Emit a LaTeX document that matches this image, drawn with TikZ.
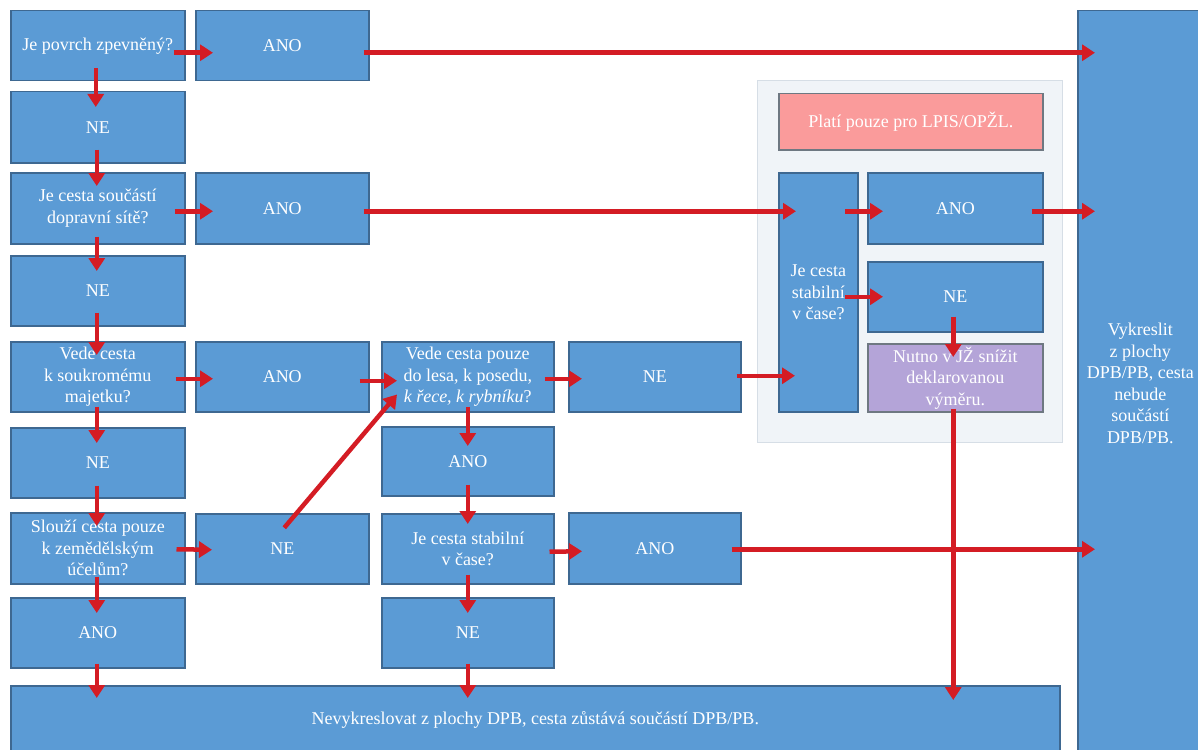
\documentclass[tikz,border=0pt]{standalone}
\usepackage{fontspec}
\setmainfont{Liberation Serif}
\usetikzlibrary{arrows.meta,calc}
\definecolor{boxc}{RGB}{91,155,213}
\definecolor{bordc}{RGB}{62,104,145}
\definecolor{arrc}{RGB}{212,28,36}
\definecolor{panelc}{RGB}{240,244,248}
\definecolor{panelb}{RGB}{214,222,230}
\definecolor{pinkc}{RGB}{250,155,155}
\definecolor{purplec}{RGB}{180,164,216}
\definecolor{greyb}{RGB}{110,120,130}
\tikzset{
  box/.style={draw=bordc, fill=boxc, line width=1.5pt, text=white,
    font=\fontsize{18}{21.5}\selectfont, align=center, inner sep=2pt,
    anchor=north west, minimum width=#1},
  box/.default=174pt,
  arr/.style={draw=arrc, line width=4.5pt,
    -{Triangle[length=13pt,width=16pt]}},
}
\begin{document}
\begin{tikzpicture}[x=1pt,y=-1pt]
\useasboundingbox (0,0) rectangle (1198,749);
% panel
\node[draw=panelb, fill=panelc, line width=1.2pt, anchor=north west,
  minimum width=305pt, minimum height=362pt, inner sep=0pt] (panel) at (757,80) {};
% column 1
\node[box, minimum height=70pt] (q1) at (10,10) {Je povrch zpevněný?};
\node[box, minimum height=71pt] (n1) at (10,91) {NE};
\node[box, minimum height=71pt] (q2) at (10,172) {Je cesta součástí\\dopravní sítě?};
\node[box, minimum height=70pt] (n2) at (10,255) {NE};
\node[box, minimum height=70pt] (q3) at (10,341) {Vede cesta\\k soukromému\\majetku?};
\node[box, minimum height=70pt] (n3) at (10,427) {NE};
\node[box, minimum height=71pt] (q4) at (10,512) {Slouží cesta pouze\\k zemědělským\\účelům?};
\node[box, minimum height=70pt] (a4) at (10,597) {ANO};
% column 2
\node[box=173pt, minimum height=70pt] (a1) at (195,10) {ANO};
\node[box=173pt, minimum height=71pt] (a2) at (195,172) {ANO};
\node[box=173pt, minimum height=70pt] (a3) at (195,341) {ANO};
\node[box=173pt, minimum height=70pt] (n4) at (195,513) {NE};
% column 3
\node[box=172pt, minimum height=70pt] (q5) at (381,341) {Vede cesta pouze\\do lesa, k posedu,\\\textit{k řece, k rybníku}?};
\node[box=172pt, minimum height=69pt] (a5) at (381,426) {ANO};
\node[box=172pt, minimum height=70pt] (q6) at (381,513) {Je cesta stabilní\\v čase?};
\node[box=172pt, minimum height=70pt] (n6) at (381,597) {NE};
% column 4
\node[box=172pt, minimum height=70pt] (n5) at (568,341) {NE};
\node[box=172pt, minimum height=71pt] (a6) at (568,512) {ANO};
% panel contents
\node[box=264pt, minimum height=56pt, fill=pinkc, draw=greyb] (pink) at (778,93) {Platí pouze pro LPIS/OPŽL.};
\node[box=79pt, minimum height=239pt] (st) at (778,172) {Je cesta\\stabilní\\v čase?};
\node[box=175pt, minimum height=71pt] (pa) at (867,172) {ANO};
\node[box=175pt, minimum height=70pt] (pn) at (867,261) {NE};
\node[box=175pt, minimum height=68pt, fill=purplec, draw=greyb] (nut) at (867,343) {Nutno v JŽ snížit\\deklarovanou\\výměru.};
% right and bottom
\node[box=125pt, minimum height=745pt] (R) at (1077,10) {Vykreslit\\z plochy\\DPB/PB, cesta\\nebude\\součástí\\DPB/PB.};
\node[box=1049pt, minimum height=68pt] (bot) at (10,685) {Nevykreslovat z plochy DPB, cesta zůstává součástí DPB/PB.};
% arrows column 1
\draw[arr] ($(q1.south)+(-2,-13)$) -- ($(n1.north)+(-2,16)$);
\draw[arr] ($(n1.south)+(-1,-14)$) -- ($(q2.north)+(-1,14)$);
\draw[arr] ($(q2.south)+(-1,-8)$) -- ($(n2.north)+(-1,16)$);
\draw[arr] ($(n2.south)+(-1,-14)$) -- ($(q3.north)+(-1,14)$);
\draw[arr] ($(q3.south)+(-1,-6)$) -- ($(n3.north)+(-1,16)$);
\draw[arr] ($(n3.south)+(-1,-13)$) -- ($(q4.north)+(-1,14)$);
\draw[arr] ($(q4.south)+(-1,-8)$) -- ($(a4.north)+(-1,16)$);
\draw[arr] ($(a4.south)+(-1,-5)$) -- ($(a4.south |- bot.north)+(-1,13)$);
% horizontal arrows
\draw[arr] ($(q1.east)+(-12,7)$) -- ($(a1.west)+(18,7)$);
\draw[arr] ($(a1.east)+(-6,7)$) -- ($(a1.east -| R.west)+(18,7)$);
\draw[arr] ($(q2.east)+(-11,3)$) -- ($(a2.west)+(18,3)$);
\draw[arr] ($(a2.east)+(-6,3)$) -- ($(a2.east -| st.west)+(18,3)$);
\draw[arr] ($(q3.east)+(-10,2)$) -- ($(a3.west)+(18,2)$);
\draw[arr] ($(a3.east)+(-10,4)$) -- ($(q5.west)+(16,4)$);
\draw[arr] ($(q5.east)+(-10,2)$) -- ($(n5.west)+(14,2)$);
\draw[arr] ($(n5.east)+(-5,-1)$) -- ($(n5.east -| st.west)+(17,-1)$);
\draw[arr] ($(q4.east)+(-9,1)$) -- ($(n4.west)+(17,1)$);
\draw[arr] ($(n4.center)+(2,-21)$) -- ($(q5.south west)+(16,-18)$);
\draw[arr] ($(q6.east)+(-5,3)$) -- ($(a6.west)+(14,3)$);
\draw[arr] ($(a6.east)+(-10,1)$) -- ($(a6.east -| R.west)+(18,1)$);
% column 3 vertical arrows
\draw[arr] ($(q5.south)+(0,-6)$) -- ($(a5.north)+(0,20)$);
\draw[arr] ($(a5.south)+(0,-12)$) -- ($(q6.north)+(0,11)$);
\draw[arr] ($(q6.south)+(0,-10)$) -- ($(n6.north)+(0,16)$);
\draw[arr] ($(n6.south)+(0,-5)$) -- ($(n6.south |- bot.north)+(0,13)$);
% panel arrows
\draw[arr] ($(pa.west)+(-22,3)$) -- ($(pa.west)+(16,3)$);
\draw[arr] ($(pa.east)+(-12,3)$) -- ($(pa.east -| R.west)+(18,3)$);
\draw[arr] ($(pn.west)+(-22,0)$) -- ($(pn.west)+(16,0)$);
\draw[arr] ($(pn.south)+(-2,-16)$) -- ($(nut.north)+(-2,14)$);
\draw[arr] ($(nut.south)+(-2,-4)$) -- ($(nut.south |- bot.north)+(-2,15)$);
\end{tikzpicture}
\end{document}
